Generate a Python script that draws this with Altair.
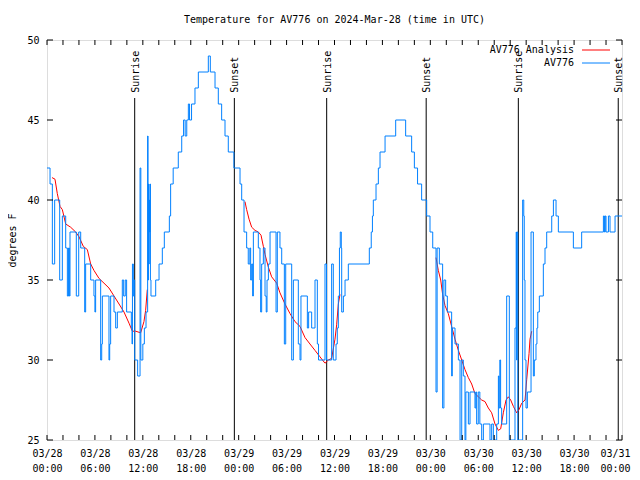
import altair as alt
import pandas as pd

# ---------------- data (hours after 2024-03-28 00:00 UTC, degrees F) ----------------
BASE_MS = int(pd.Timestamp("2024-03-28T00:00:00Z").value // 10**6)

blue_part1 = [
    (0.0, 42), (0.38, 41), (0.67, 36), (0.96, 40), (1.59, 35), (1.92, 39), (2.34, 37), (2.55, 34),
    (2.7, 37), (2.8, 34), (2.88, 38), (3.67, 34), (3.97, 38), (4.22, 37), (4.72, 33), (4.84, 36),
    (5.47, 35), (5.88, 34), (6.0, 33), (6.09, 35), (6.72, 30), (6.85, 31), (6.93, 34), (7.76, 30),
    (7.85, 31), (7.97, 34), (8.39, 33), (8.6, 32), (8.81, 33), (9.43, 35), (9.6, 34), (9.8, 35),
    (9.97, 33), (10.56, 32), (10.65, 31), (10.7, 36), (10.81, 34), (10.9, 35), (10.98, 30),
    (11.35, 29), (11.65, 42), (11.75, 30), (12.0, 31), (12.19, 32), (12.4, 33), (12.6, 44),
    (12.65, 35), (12.7, 41), (12.75, 36), (12.8, 40), (12.85, 38), (12.9, 41), (12.95, 35),
    (13.02, 34), (13.61, 35), (14.03, 36), (14.44, 37), (14.69, 38), (15.32, 39), (15.48, 41),
    (15.8, 42), (16.44, 43), (16.87, 44), (17.1, 45), (17.3, 44), (17.5, 45), (17.7, 46),
    (17.85, 45), (18.1, 46), (18.53, 47), (18.95, 48), (20.2, 49), (20.45, 48), (21.04, 47),
    (21.45, 46), (21.87, 45), (22.29, 44), (22.7, 43), (23.4, 42),
]
blue_part2 = [
    (24.17, 41), (24.38, 40), (24.67, 38), (25.0, 37), (25.2, 36), (25.4, 37), (25.5, 35),
    (25.63, 36), (25.75, 34), (25.84, 38), (26.46, 37), (26.67, 35), (26.75, 33), (26.88, 36),
    (27.09, 37), (27.3, 34), (27.45, 33), (27.55, 35), (27.72, 36), (27.93, 38), (28.68, 33),
    (28.84, 38), (29.17, 37), (29.39, 36), (29.72, 31), (29.89, 36), (30.64, 30), (30.85, 35),
    (31.47, 31), (31.68, 30), (31.8, 34), (32.6, 32), (32.76, 33), (33.14, 32), (33.56, 35),
    (33.85, 31), (34.0, 30), (34.81, 36), (35.0, 30), (35.64, 36), (35.85, 30), (36.19, 31),
    (36.35, 32), (36.48, 34), (36.62, 37), (36.72, 38), (36.85, 37), (36.9, 33), (37.11, 34),
    (37.32, 35), (37.73, 36), (40.36, 37), (40.6, 38), (40.75, 39), (40.86, 40), (41.2, 41),
    (41.49, 42), (41.7, 43), (42.33, 44), (43.66, 45), (44.91, 44), (45.66, 43), (46.0, 42),
    (46.4, 41), (46.91, 40), (47.54, 39),
]
blue_part3 = [
    (47.96, 38), (48.3, 37), (48.71, 28), (48.85, 37), (49.13, 36), (49.54, 27), (49.7, 35),
    (49.92, 34), (50.13, 33), (50.67, 29), (50.75, 32), (51.09, 31), (51.51, 30), (51.72, 25),
    (51.93, 30), (52.13, 29), (52.34, 25), (52.45, 28), (52.76, 26), (52.97, 28), (53.59, 27),
    (53.7, 28), (53.8, 26), (54.0, 28), (54.2, 26), (54.43, 25), (54.64, 26), (55.47, 25),
    (55.68, 26), (55.89, 25), (56.31, 26), (56.52, 29), (56.6, 27), (56.7, 30), (56.8, 27),
    (56.93, 26), (57.56, 34), (57.89, 25), (58.6, 32), (58.75, 38), (58.8, 30), (58.85, 38),
    (58.95, 25), (59.56, 40), (59.7, 39), (59.76, 35), (59.85, 30), (59.98, 27), (60.15, 28),
    (60.61, 38), (60.9, 29), (61.02, 30), (61.23, 31), (61.35, 32), (61.45, 33), (61.65, 34),
    (62.15, 36), (62.36, 37), (62.57, 38), (63.2, 39), (63.41, 40), (63.74, 39), (64.03, 38),
    (65.91, 37), (66.95, 38), (69.67, 39), (69.8, 38), (69.9, 39), (70.0, 38), (70.3, 39),
    (70.5, 38), (71.13, 39), (72.0, 39),
]

red_night1 = [
    (0.63, 41.4), (1.0, 41.3), (1.29, 40.4), (1.63, 39.6), (1.92, 39.4), (2.34, 38.5), (2.96, 38.3),
    (3.59, 38.0), (4.01, 37.7), (4.55, 37.1), (5.05, 36.9), (5.47, 36.0), (5.88, 35.6), (6.51, 35.1),
    (7.14, 34.8), (7.76, 34.5), (8.39, 34.0), (9.02, 33.5), (9.64, 33.0), (10.27, 32.3), (10.69, 31.8),
    (11.1, 31.8), (11.73, 31.7), (12.14, 32.4), (12.35, 33.1), (12.56, 34.4),
]
red_night2 = [
    (24.79, 39.9), (25.0, 39.4), (25.3, 38.8), (25.63, 38.3), (26.05, 38.1), (26.46, 38.0), (26.8, 37.8),
    (27.09, 37.1), (27.3, 36.6), (27.72, 35.8), (28.13, 35.2), (28.76, 34.8), (29.17, 34.2), (29.8, 33.5),
    (30.43, 32.9), (31.05, 32.4), (31.68, 32.1), (32.31, 31.4), (32.93, 31.0), (33.56, 30.6), (34.18, 30.2),
    (34.81, 29.8), (35.23, 30.0), (35.64, 30.1), (36.06, 31.3), (36.27, 32.2), (36.48, 33.5), (36.69, 34.1),
]
red_night3 = [
    (48.71, 36.4), (49.0, 35.6), (49.3, 35.0), (49.54, 34.1), (49.84, 33.4), (50.25, 32.9), (50.67, 32.1),
    (51.09, 31.3), (51.51, 30.6), (51.93, 30.0), (52.34, 29.4), (52.76, 28.9), (53.18, 28.5), (53.59, 27.9),
    (54.01, 27.7), (54.43, 27.5), (54.85, 27.4), (55.26, 27.0), (55.68, 26.7), (56.1, 26.0), (56.52, 25.6),
    (56.81, 25.7), (57.14, 26.7), (57.48, 27.5), (57.77, 27.7), (58.06, 27.5), (58.4, 27.1), (58.81, 26.7),
    (59.11, 26.9), (59.44, 27.3), (59.86, 27.5), (60.07, 28.8), (60.36, 30.4), (60.48, 31.3), (60.69, 31.8),
]

sunrise_hours = [10.98, 35.02, 59.02]
sunset_hours = [23.46, 47.48, 71.53]

x_label_hours = [0, 6, 12, 18, 24, 30, 36, 42, 48, 54, 60, 66, 72]
x_tick_hours = [0, 2, 4, 6, 8, 10, 12, 14, 16, 18, 20, 22, 24, 26, 28, 30, 32, 34, 36,
                38, 40, 42, 44, 46, 48, 50, 52, 54, 56, 58, 60, 62, 64, 66, 68, 70, 72]
y_ticks = [25, 30, 35, 40, 45, 50]

TITLE = "Temperature for AV776 on 2024-Mar-28 (time in UTC)"
FONT = "DejaVu Sans Mono"
BLUE = "#0080ff"
RED = "#ff0000"


def ms(h):
    return BASE_MS + int(round(h * 3600 * 1000))


blue_df = pd.DataFrame(
    [{"t": ms(h), "v": v} for h, v in blue_part1 + blue_part2 + blue_part3]
)
red_rows = []
for i, night in enumerate([red_night1, red_night2, red_night3]):
    for h, v in night:
        red_rows.append({"t": ms(h), "v": v, "seg": i})
red_df = pd.DataFrame(red_rows)

sun_df = pd.DataFrame(
    [{"t": ms(h), "label": "Sunrise"} for h in sunrise_hours]
    + [{"t": ms(h), "label": "Sunset"} for h in sunset_hours]
)
xt_df = pd.DataFrame({"t": [ms(h) for h in x_tick_hours]})
yt_df = pd.DataFrame({"v": y_ticks})

W, H = 575, 400
LAST = ms(72)

x_enc = alt.X(
    "t:T",
    scale=alt.Scale(type="utc", domain=[ms(0), ms(72)], nice=False),
    axis=alt.Axis(
        values=[ms(h) for h in x_label_hours],
        labelExpr="[utcFormat(datum.value, '%m/%d'), utcFormat(datum.value, '%H:%M')]",
        ticks=False, tickSize=0, domain=False, grid=False, title=None,
        labelPadding=8, labelLineHeight=15, labelFont=FONT, labelFontSize=10,
        labelColor="black", labelAlign="center", labelFlush=False, labelOverlap=False,
        labelOffset={"condition": {"test": f"datum.value >= {LAST}", "value": -7}, "value": 0},
    ),
)
y_enc = alt.Y(
    "v:Q",
    scale=alt.Scale(domain=[25, 50], nice=False, zero=False),
    axis=alt.Axis(
        values=y_ticks, ticks=False, tickSize=0, domain=False, grid=False,
        title="degrees F", titleFont=FONT, titleFontSize=10, titleFontWeight="normal",
        titleColor="black", titlePadding=9,
        labelPadding=8, labelFont=FONT, labelFontSize=10, labelColor="black",
    ),
)

sun_rules = alt.Chart(sun_df).mark_rule(color="black", strokeWidth=1).encode(
    x=x_enc, y=alt.datum(46.375), y2=alt.datum(25)
)
sun_text = alt.Chart(sun_df).mark_text(
    angle=270, align="left", baseline="middle", font=FONT, fontSize=10, color="black", dy=1
).encode(x=x_enc, y=alt.datum(46.7), text="label:N")

red_line = alt.Chart(red_df).mark_line(color=RED, strokeWidth=1).encode(
    x=x_enc, y=y_enc, detail="seg:N"
)
blue_line = alt.Chart(blue_df).mark_line(
    color=BLUE, strokeWidth=1, interpolate="step-after", clip=True
).encode(x=x_enc, y=y_enc)

tick_b = alt.Chart(xt_df).mark_rule(color="black").encode(
    x=x_enc, y=alt.value(H), y2=alt.value(H - 5)
)
tick_t = alt.Chart(xt_df).mark_rule(color="black").encode(
    x=x_enc, y=alt.value(0), y2=alt.value(5)
)
tick_l = alt.Chart(yt_df).mark_rule(color="black").encode(
    y=y_enc, x=alt.value(0), x2=alt.value(6)
)
tick_r = alt.Chart(yt_df).mark_rule(color="black").encode(
    y=y_enc, x=alt.value(W), x2=alt.value(W - 6)
)

leg_df = pd.DataFrame({"name": ["AV776 Analysis", "AV776"], "color": [RED, BLUE], "row": [0, 1]})
leg_text1 = alt.Chart(leg_df).transform_filter("datum.row == 0").mark_text(
    align="right", baseline="middle", font=FONT, fontSize=10, color="black"
).encode(x=alt.value(527), y=alt.value(10), text="name:N")
leg_text2 = alt.Chart(leg_df).transform_filter("datum.row == 1").mark_text(
    align="right", baseline="middle", font=FONT, fontSize=10, color="black"
).encode(x=alt.value(527), y=alt.value(23), text="name:N")
leg_line1 = alt.Chart(leg_df).transform_filter("datum.row == 0").mark_rule(
    color=RED, strokeWidth=1
).encode(x=alt.value(535), x2=alt.value(563), y=alt.value(10))
leg_line2 = alt.Chart(leg_df).transform_filter("datum.row == 1").mark_rule(
    color=BLUE, strokeWidth=1
).encode(x=alt.value(535), x2=alt.value(563), y=alt.value(23))

chart = alt.layer(
    sun_rules, sun_text, red_line, blue_line, tick_b, tick_t, tick_l, tick_r,
    leg_text1, leg_text2, leg_line1, leg_line2,
).properties(
    width=W, height=H,
    title=alt.TitleParams(
        TITLE, font=FONT, fontSize=10, fontWeight="normal", color="black",
        anchor="middle", offset=10,
    ),
    autosize=alt.AutoSizeParams(type="none"),
    padding={"left": 39, "top": 32, "right": 9, "bottom": 32},
).configure_view(
    stroke="black", strokeWidth=1
).configure(background="white")

chart.save("out.html", embed_options={"renderer": "svg", "actions": False})
